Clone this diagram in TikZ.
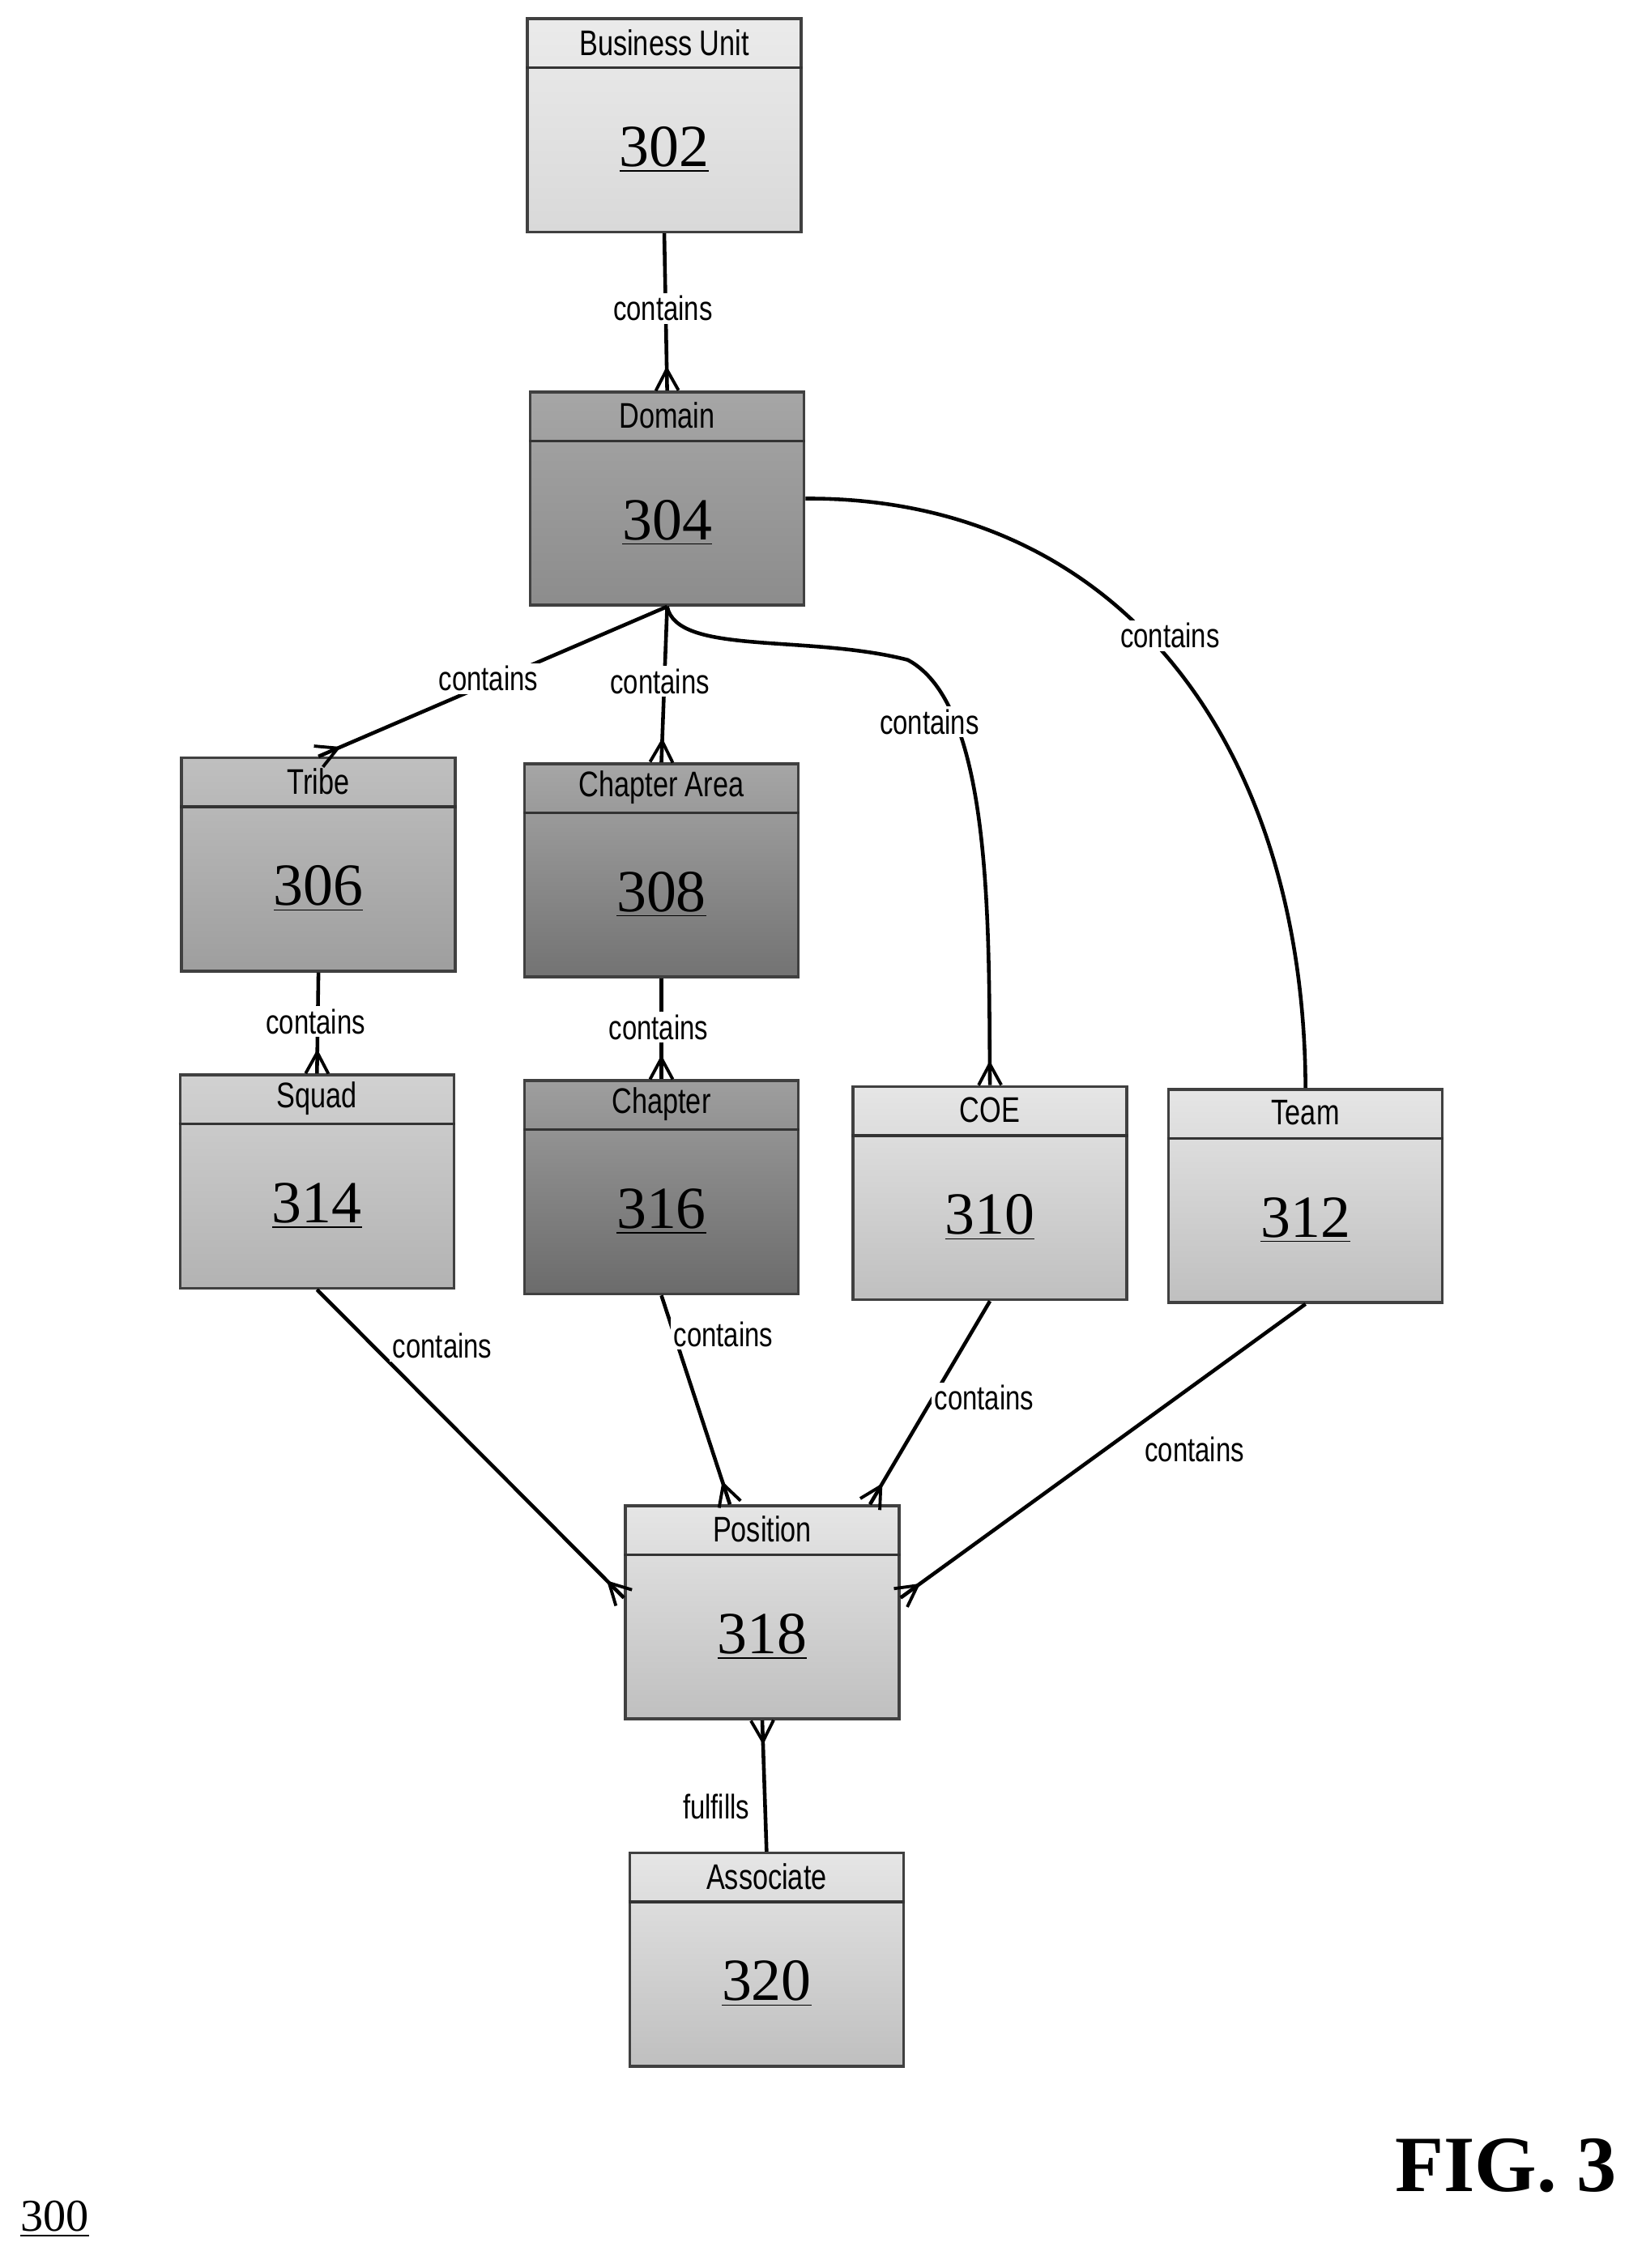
\documentclass[tikz,border=0pt]{standalone}
\usepackage{fontspec}
\setmainfont{Liberation Serif}
\newfontfamily\narrow[FakeStretch=0.78]{Liberation Sans}
\usetikzlibrary{decorations.markings}
\begin{document}
\begin{tikzpicture}[x=0.01779cm,y=-0.01779cm,
 ent/.style={draw=black!75,line width=1pt,minimum width=3.38cm,minimum height=2.633cm,inner sep=0pt},
 ttl/.style={font=\narrow\fontsize{12.5}{14}\selectfont,inner sep=0pt},
 num/.style={font=\fontsize{21}{24}\selectfont,inner sep=0pt},
 lbl/.style={font=\narrow\fontsize{12}{14}\selectfont,fill=white,inner sep=1pt},
 conn/.style={line width=1.3pt},
 crow/.style={conn,postaction={decorate},decoration={markings,mark=at position 1 with {
   \draw[line width=1.1pt] (-0.26cm,0) -- (0,0.14cm) (-0.26cm,0) -- (0,-0.14cm);}}}]
\useasboundingbox[fill=white] (0,0) rectangle (1130,1574);
\newcommand\ent[7]{%
 \node[ent,top color=#6,bottom color=#7,anchor=north west] (#1) at (#2,#3) {};
 \draw[line width=1pt,black!80] ([yshift=-0.623cm]#1.north west) -- ([yshift=-0.623cm]#1.north east);
 \node[ttl] (#1t) at ([yshift=-0.31cm]#1.north) {#4};
 \node[num] (#1n) at ([yshift=-0.3cm]#1.center) {\underline{#5}};}
\ent{bu}{365}{12}{Business Unit}{302}{black!8}{black!15}
\ent{dom}{367}{271}{Domain}{304}{black!35}{black!45}
\ent{tri}{125}{525}{Tribe}{306}{black!25}{black!38}
\ent{cha}{363}{529}{Chapter Area}{308}{black!35}{black!55}
\ent{squ}{124}{745}{Squad}{314}{black!18}{black!30}
\ent{chp}{363}{749}{Chapter}{316}{black!38}{black!58}
\ent{coe}{591}{753}{COE}{310}{black!10}{black!25}
\ent{team}{810}{755}{Team}{312}{black!10}{black!25}
\ent{pos}{433}{1044}{Position}{318}{black!10}{black!25}
\ent{ass}{436}{1285}{Associate}{320}{black!10}{black!25}
% connectors
\draw[crow] (bu.south) -- (dom.north);
\draw[crow] (dom.south) -- (tri.north);
\draw[crow] (dom.south) -- (cha.north);
\draw[crow] (dom.south) .. controls (470,455) and (560,440) .. (630,458) .. controls (690,490) and (686,650) .. (coe.north);
\draw[crow] (dom.east) .. controls (780,345) and (905,520) .. (team.north);
\draw[crow] (tri.south) -- (squ.north);
\draw[crow] (cha.south) -- (chp.north);
\draw[crow] (squ.south) -- ([yshift=0.18cm]pos.west);
\draw[crow] (chp.south) -- ([xshift=-0.4cm]pos.north);
\draw[crow] (coe.south) -- ([xshift=1.33cm]pos.north);
\draw[crow] (team.south) -- ([yshift=0.18cm]pos.east);
\draw[crow] (ass.north) -- (pos.south);
% labels
\node[lbl] (l1) at (460,214) {contains};
\node[lbl] (l2) at (339,471) {contains};
\node[lbl] (l3) at (458,473) {contains};
\node[lbl] (l4) at (645,501) {contains};
\node[lbl] (l5) at (812,441) {contains};
\node[lbl] (l6) at (219,709) {contains};
\node[lbl] (l7) at (457,713) {contains};
\node[lbl] (l8) at (307,934) {contains};
\node[lbl] (l9) at (502,926) {contains};
\node[lbl] (l10) at (683,970) {contains};
\node[lbl] (l11) at (829,1006) {contains};
\node[lbl] (l12) at (497,1254) {fulfills};
\node[font=\fontsize{28}{32}\selectfont\bfseries,inner sep=0pt] (fig) at (1045,1503) {FIG. 3};
\node[font=\fontsize{16}{18}\selectfont,inner sep=0pt] (ref) at (38,1540) {\underline{300}};
\end{tikzpicture}
\end{document}
